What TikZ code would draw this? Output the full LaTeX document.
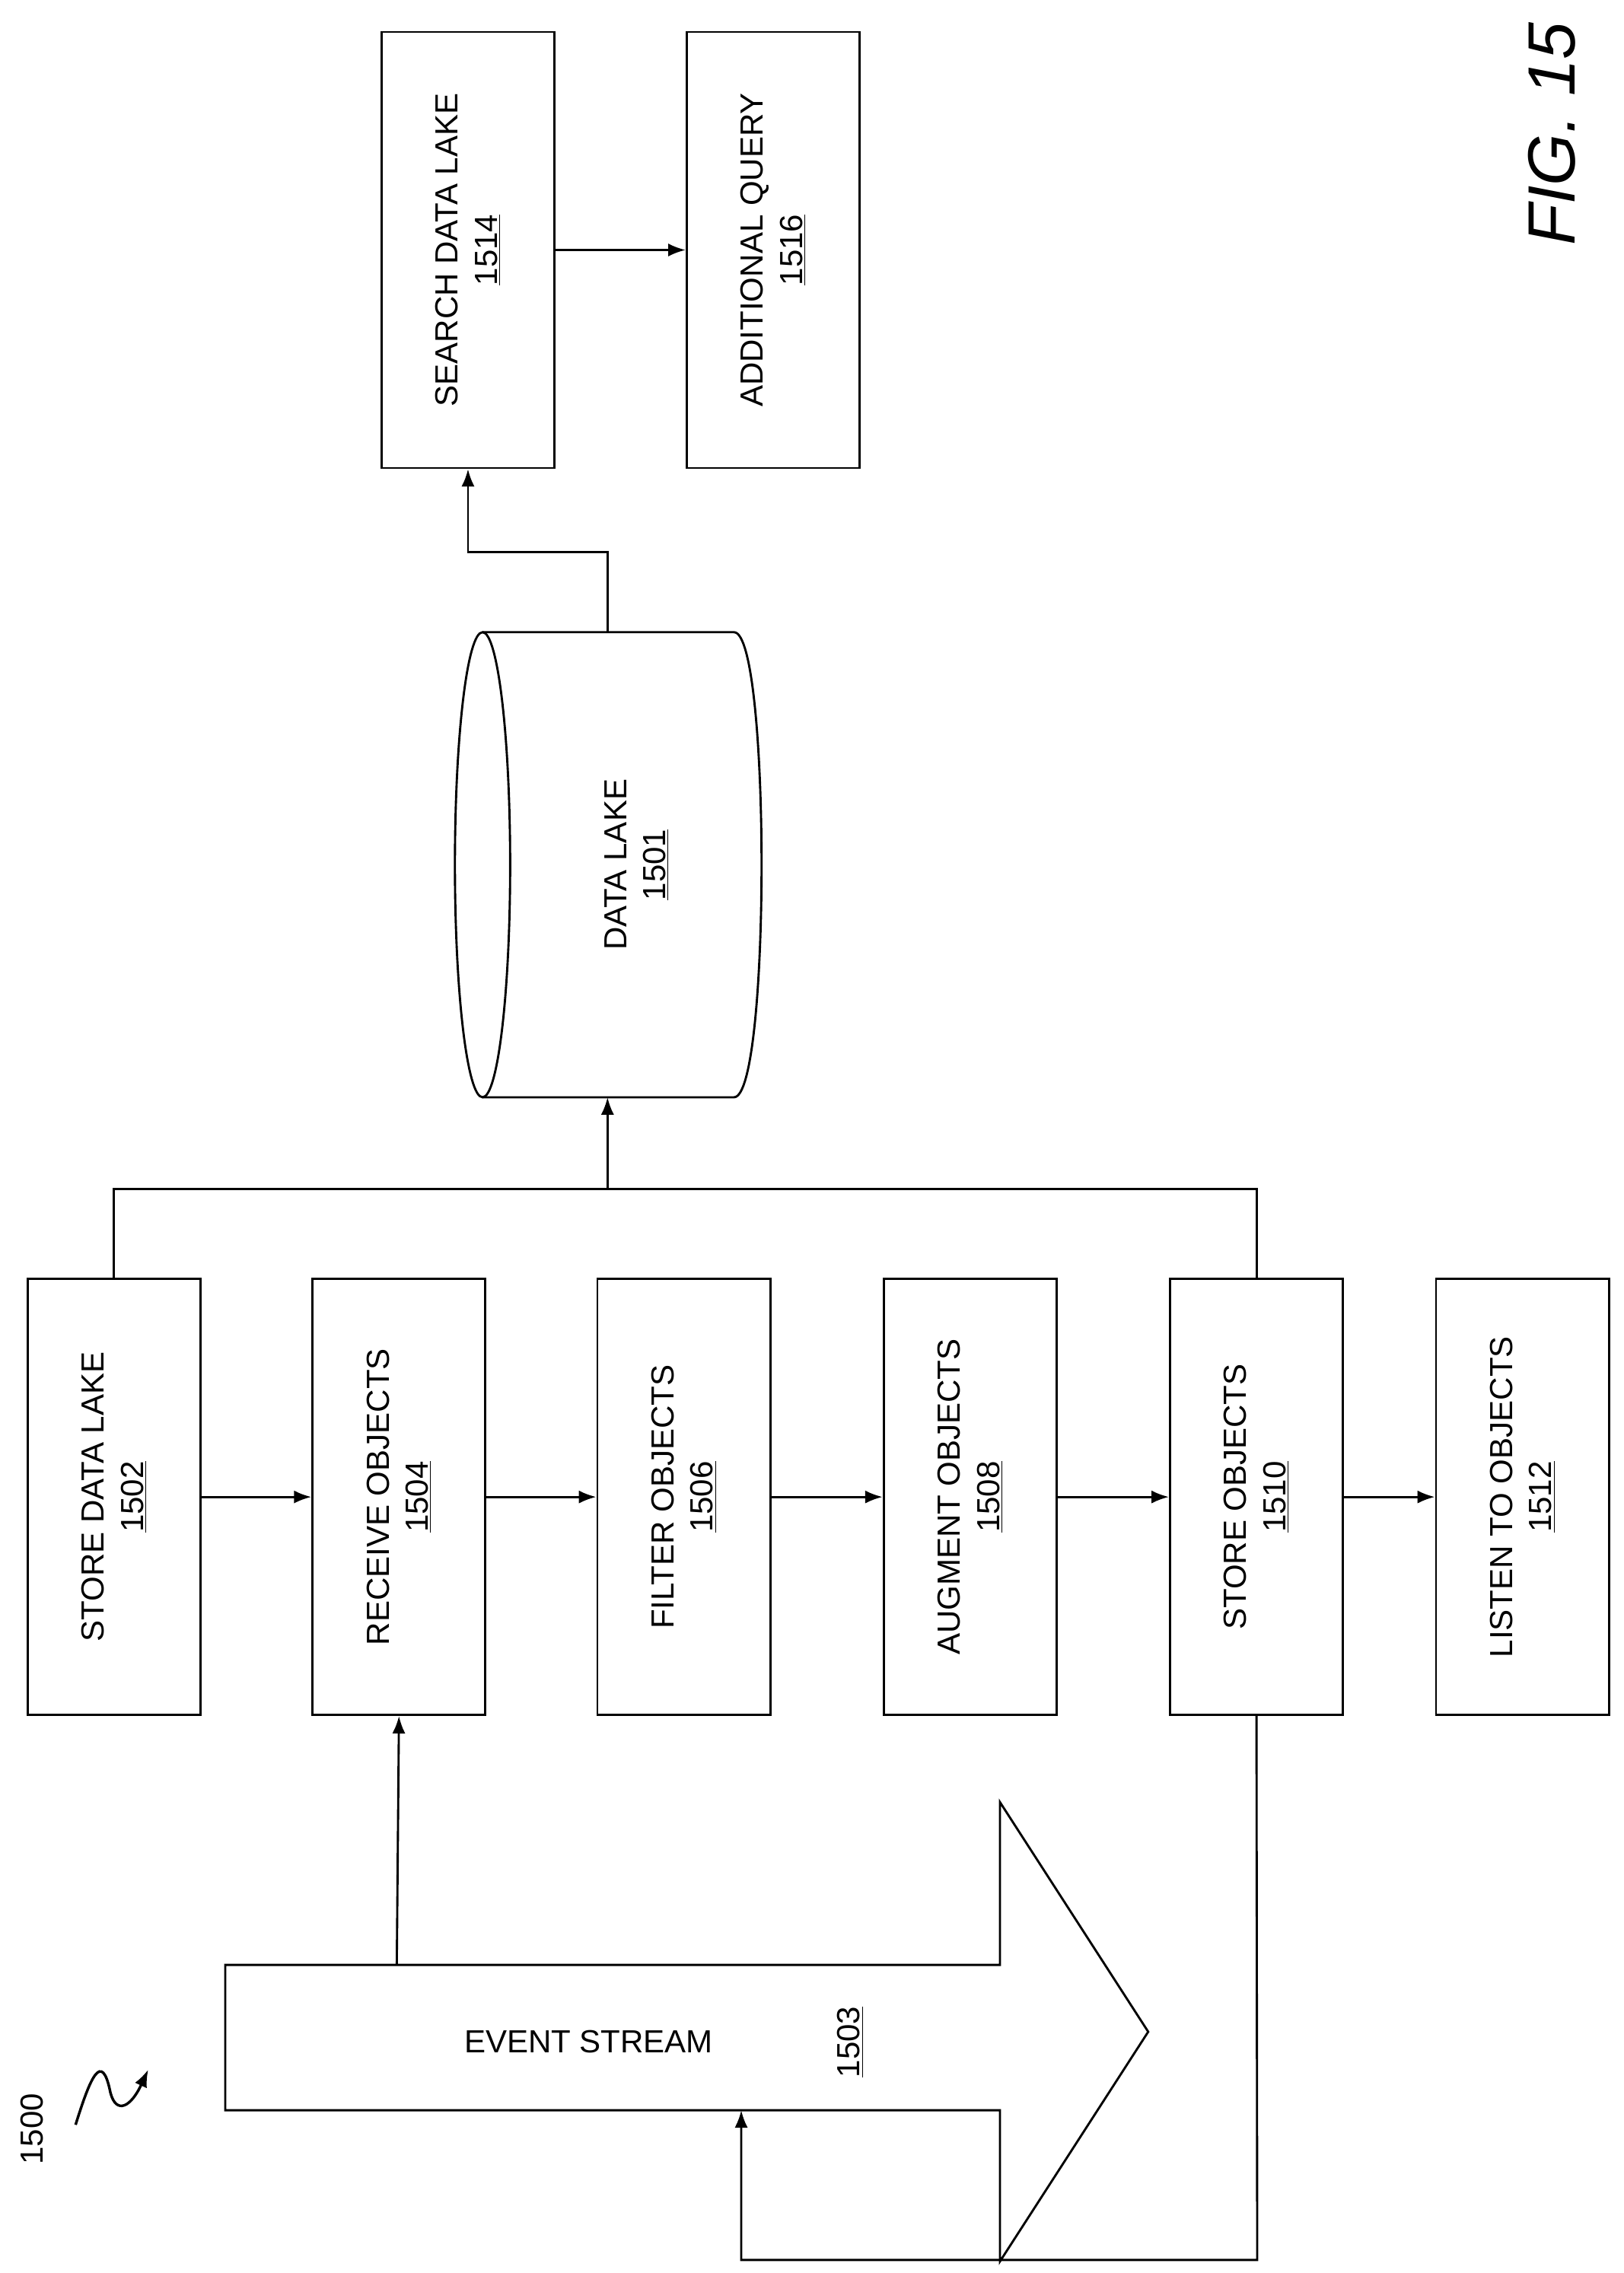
\documentclass[tikz,border=0pt]{standalone}
\usepackage{fontspec}
\setmainfont{Liberation Sans}
\usetikzlibrary{arrows.meta}
\begin{document}
\begin{tikzpicture}[x=1pt,y=-1pt,
  box/.style={draw,line width=1.5pt,rotate=90,minimum width=300pt,minimum height=119pt,inner sep=0pt,align=center,font=\fontsize{22}{27}\selectfont},
  ln/.style={line width=1.5pt},
  ar/.style={line width=1.5pt,-{Latex[length=12pt,width=9pt]}},
  lbl/.style={font=\fontsize{22}{27}\selectfont}]
\useasboundingbox (0,0) rectangle (1117,1564);
\node[box] (b1502) at (78.5,1030) {STORE DATA LAKE\\\underline{1502}};
\node[box] (b1504) at (274.5,1030) {RECEIVE OBJECTS\\\underline{1504}};
\node[box] (b1506) at (470.5,1030) {FILTER OBJECTS\\\underline{1506}};
\node[box] (b1508) at (667.5,1030) {AUGMENT OBJECTS\\\underline{1508}};
\node[box] (b1510) at (864.5,1030) {STORE OBJECTS\\\underline{1510}};
\node[box] (b1512) at (1047.5,1030) {LISTEN TO OBJECTS\\\underline{1512}};
\node[box] (b1514) at (322,172) {SEARCH DATA LAKE\\\underline{1514}};
\node[box] (b1516) at (532,172) {ADDITIONAL QUERY\\\underline{1516}};
\draw[ar] (b1502.south) -- (b1504.north);
\draw[ar] (b1504.south) -- (b1506.north);
\draw[ar] (b1506.south) -- (b1508.north);
\draw[ar] (b1508.south) -- (b1510.north);
\draw[ar] (b1510.south) -- (b1512.north);
\draw[ar] (b1514.south) -- (b1516.north);
% cylinder
\draw[ln] (332,435) -- (505,435) .. controls (530.3,435) and (530.3,755) .. (505,755) -- (332,755);
\draw[ln] (332,595) ellipse[x radius=19,y radius=160];
\node[lbl,rotate=90,align=center] (lake) at (438,595) {DATA LAKE\\\underline{1501}};
\coordinate (cyltop) at (418,435);
\coordinate (cylbot) at (418,755);
% bus
\draw[ln] (b1502.east) |- (418,818) -| (b1510.east);
\draw[ar] (418,818) -- (cylbot);
\draw[ar] (cyltop) -- (418,380) -| (b1514.west);
% event stream
\draw[ln,fill=white] (155,1352) -- (688,1352) -- (688,1240) -- (790,1398) -- (688,1556) -- (688,1452) -- (155,1452) -- cycle;
\node[lbl] (es) at (405,1405) {EVENT STREAM};
\node[lbl,rotate=90] (n1503) at (585,1405) {\underline{1503}};
\coordinate (estop) at (273,1352);
\coordinate (esbot) at (510,1452);
\draw[ar] (estop) -- (b1504.west);
\draw[ar] (b1510.west) -- (865,1555) -| (esbot);
% labels
\node[rotate=90,font=\fontsize{46}{50}\selectfont\itshape] (fig) at (1068,92) {FIG. 15};
\node[lbl,rotate=90] (n1500) at (22,1465) {1500};
\draw[line width=1.8pt,-{Latex[length=12pt,width=9pt]}] (52,1462) .. controls (62,1430) and (70,1410) .. (76,1440) .. controls (80,1455) and (90,1450) .. (102,1424);
\end{tikzpicture}
\end{document}
